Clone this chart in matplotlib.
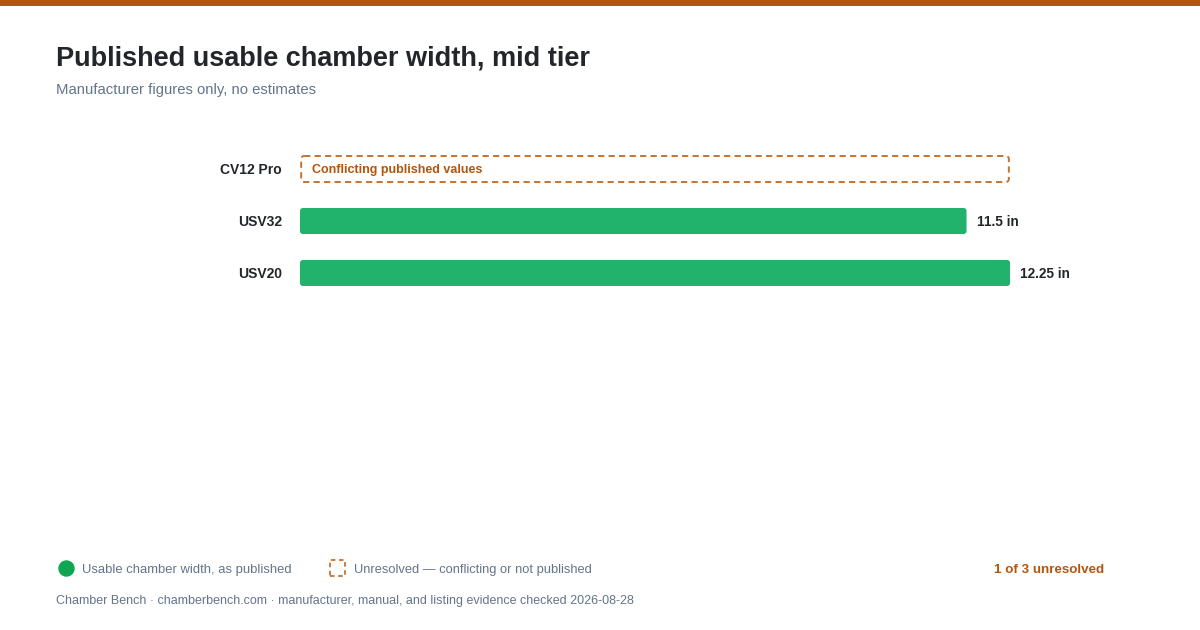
import matplotlib
matplotlib.use("Agg")
import matplotlib.pyplot as plt
from matplotlib.patches import FancyBboxPatch, Rectangle
from matplotlib.lines import Line2D

plt.rcParams["font.family"] = ["Liberation Sans", "DejaVu Sans"]

# data
models = ["CV12 Pro", "USV32", "USV20"]
widths = [None, 11.5, 12.25]          # inches, None = unresolved
value_labels = ["", "11.5 in", "12.25 in"]
unresolved_note = "Conflicting published values"
x_max = 12.25

GREEN = "#21B26B"
DOT_GREEN = "#0FA552"
ORANGE = "#B5540A"
DASH_ORANGE = "#C8732F"
DARK = "#22252A"
SLATE = "#64748B"

W, H = 1200, 630
fig = plt.figure(figsize=(W / 100, H / 100), dpi=100)
fig.patch.set_facecolor("white")

def fx(px):
    return px / W

def fy(py):
    return 1 - py / H

# top band
fig.patches.append(Rectangle((0, fy(6)), 1, 6 / H, transform=fig.transFigure,
                             facecolor=ORANGE, edgecolor="none"))

fig.text(fx(56), fy(66), "Published usable chamber width, mid tier",
         fontsize=19.5, fontweight="bold", color=DARK, va="baseline")
fig.text(fx(56), fy(94), "Manufacturer figures only, no estimates",
         fontsize=10.75, color=SLATE, va="baseline")

# plot area: x 300..1010 px, rows 52 px apart starting at 143
ax = fig.add_axes([fx(300), fy(299), (1010 - 300) / W, 156 / H])
ax.set_xlim(0, x_max)
ax.set_ylim(len(models) - 0.5, -0.5)
for s in ax.spines.values():
    s.set_visible(False)
ax.set_xticks([])
ax.set_yticks(range(len(models)))
ax.set_yticklabels(models, fontsize=10, fontweight="bold", color=DARK)
ax.tick_params(axis="y", length=0, pad=13)

px_x = 710 / x_max   # pixels per inch on x
px_y = 52.0          # pixels per row
aspect = px_x / px_y
bar_h = 0.5

for i, (w, lab) in enumerate(zip(widths, value_labels)):
    if w is None:
        box = FancyBboxPatch((0.02, i - bar_h / 2), x_max - 0.04, bar_h,
                             boxstyle="round,pad=0,rounding_size=0.05",
                             mutation_aspect=aspect,
                             facecolor="none", edgecolor=DASH_ORANGE,
                             linewidth=1.4, linestyle=(0, (3.2, 2.2)))
        ax.add_patch(box)
        ax.annotate(unresolved_note, (0, i), xytext=(12, -1.5),
                    textcoords="offset pixels", va="center", ha="left",
                    fontsize=9.0, fontweight="bold", color=ORANGE)
    else:
        box = FancyBboxPatch((0, i - bar_h / 2), w, bar_h,
                             boxstyle="round,pad=0,rounding_size=0.05",
                             mutation_aspect=aspect,
                             facecolor=GREEN, edgecolor="none")
        ax.add_patch(box)
        ax.annotate(lab, (w, i), xytext=(10, -1.5), textcoords="offset pixels",
                    va="center", ha="left", fontsize=9.8,
                    fontweight="bold", color=DARK)

# legend
fig.lines.append(Line2D([fx(66)], [fy(568)], transform=fig.transFigure,
                        marker="o", markersize=10.8, color=DOT_GREEN,
                        linestyle="none"))
fig.text(fx(82), fy(573), "Usable chamber width, as published",
         fontsize=9.35, color=SLATE, va="baseline")
fig.patches.append(Rectangle((fx(330), fy(576)), 15 / W, 16 / H,
                             transform=fig.transFigure, facecolor="none",
                             edgecolor=DASH_ORANGE, linewidth=1.3,
                             linestyle=(0, (2.5, 2))))
fig.text(fx(354), fy(573), "Unresolved \u2014 conflicting or not published",
         fontsize=9.3, color=SLATE, va="baseline")
fig.text(fx(1104), fy(573), "1 of 3 unresolved", fontsize=9.6,
         fontweight="bold", color=ORANGE, va="baseline", ha="right")

fig.text(fx(56), fy(604), "Chamber Bench \u00b7 chamberbench.com \u00b7 manufacturer, manual, and listing evidence checked 2026-08-28",
         fontsize=9.0, color=SLATE, va="baseline")

fig.savefig("out.png", dpi=100)
